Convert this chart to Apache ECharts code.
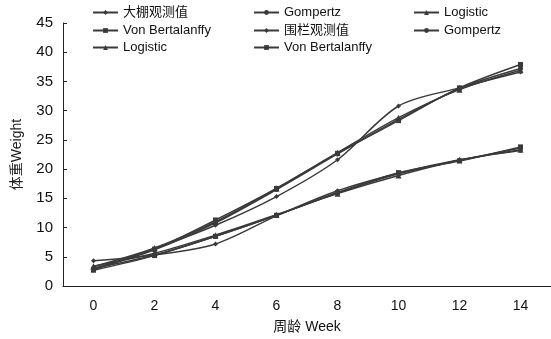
<!DOCTYPE html>
<html><head><meta charset="utf-8">
<script src="https://cdn.jsdelivr.net/npm/echarts@6/dist/echarts.min.js"></script>
<style>html,body{margin:0;padding:0;background:#fff}#c{width:551px;height:339px}</style>
</head><body><div id="c"></div>
<script>
var weeks = ['0','2','4','6','8','10','12','14'];
var ghObserved = [2.9, 6.4, 10.4, 15.3, 21.6, 30.8, 33.9, 36.6];
var ghGompertz = [3.0, 6.2, 10.8, 16.5, 22.6, 28.5, 33.8, 37.2];
var ghLogistic = [3.3, 6.5, 11.0, 16.7, 22.8, 28.8, 33.6, 36.9];
var ghVonB     = [2.8, 6.3, 11.3, 16.7, 22.7, 28.3, 33.9, 37.9];
var fcObserved = [4.3, 5.3, 7.2, 12.0, 16.3, 19.3, 21.6, 23.2];
var fcGompertz = [3.0, 5.3, 8.5, 12.1, 15.9, 19.2, 21.5, 23.6];
var fcLogistic = [3.4, 5.6, 8.7, 12.2, 15.8, 18.9, 21.5, 23.3];
var fcVonB     = [2.7, 5.2, 8.5, 12.1, 16.0, 19.4, 21.4, 23.8];
var yTicks = {min: 0, max: 45, interval: 5};

var FONT = 'Liberation Sans, Arial, "Noto Sans CJK SC", sans-serif';
var C = '#3a3a3a';
var defs = [
  ['大棚观测值', ghObserved, 'diamond'],
  ['Gompertz', ghGompertz, 'circle'],
  ['Logistic', ghLogistic, 'triangle'],
  ['Von Bertalanffy', ghVonB, 'rect'],
  ['围栏观测值 ', fcObserved, 'diamond'],
  ['Gompertz ', fcGompertz, 'circle'],
  ['Logistic ', fcLogistic, 'triangle'],
  ['Von Bertalanffy ', fcVonB, 'rect']
];
var series = defs.map(function(d){
  return {
    name: d[0], type: 'line', data: d[1], smooth: 0.3,
    symbol: d[2], symbolSize: d[2]==='triangle'?6:5,
    lineStyle: {color: C, width: 1.5},
    itemStyle: {color: C},
    animation: false
  };
});
var legPos = [[92,6],[253,6],[413,6],[92,24],[253,24],[413,24],[92,41],[253,41]];
var legends = defs.map(function(d,i){
  return {
    data: [d[0]], left: legPos[i][0], top: legPos[i][1],
    itemWidth: 25, itemHeight: 6, padding: 0,
    textStyle: {fontFamily: FONT, fontSize: 13, color: '#111'},
    selectedMode: false
  };
});
var chart = echarts.init(document.getElementById('c'), null, {renderer:'canvas'});
chart.setOption({
  backgroundColor: '#fff',
  animation: false,
  legend: legends,
  grid: {left: 63, right: -4, top: 23, bottom: 49, containLabel: false},
  xAxis: {
    type: 'category', data: weeks, boundaryGap: true,
    name: '周龄 Week', nameLocation: 'middle', nameGap: 34,
    nameTextStyle: {fontFamily: FONT, fontSize: 14, color: '#111'},
    axisLine: {lineStyle: {color: '#222', width: 1}},
    axisTick: {inside: true, length: 4, lineStyle: {color: '#222'}},
    axisLabel: {fontFamily: FONT, fontSize: 14, color: '#111', margin: 13}
  },
  yAxis: {
    type: 'value', min: yTicks.min, max: yTicks.max, interval: yTicks.interval,
    name: '体重Weight', nameLocation: 'middle', nameGap: 39,
    nameTextStyle: {fontFamily: FONT, fontSize: 14, color: '#222'},
    axisLine: {show: true, lineStyle: {color: '#222', width: 1}},
    axisTick: {show: true, inside: true, length: 4, lineStyle: {color: '#222'}},
    axisLabel: {fontFamily: FONT, fontSize: 15, color: '#111', margin: 10},
    splitLine: {show: false}
  },
  series: series
});
</script></body></html>
